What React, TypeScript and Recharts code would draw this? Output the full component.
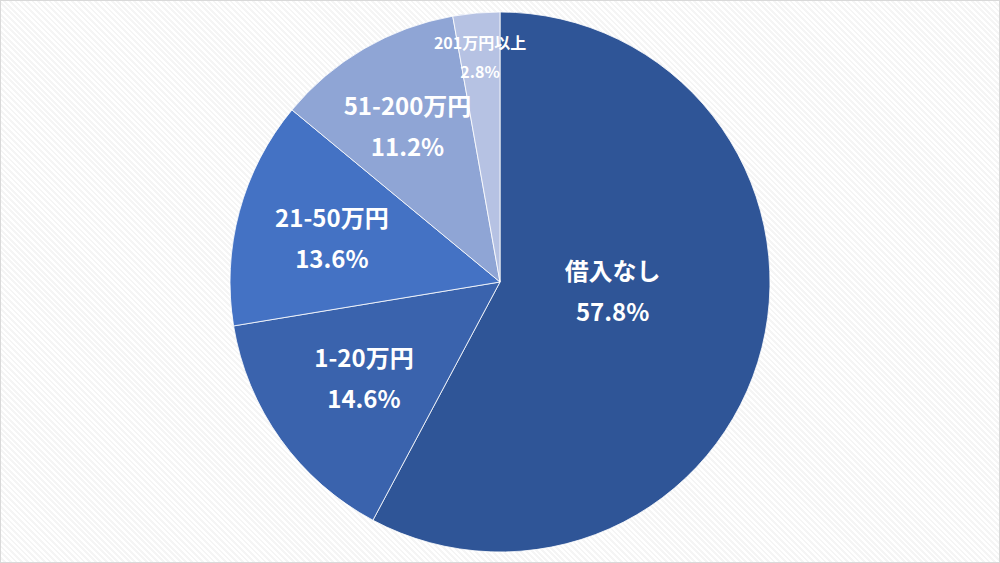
import { PieChart, Pie, Cell } from 'recharts'

const CATEGORIES = ['借入なし', '1-20万円', '21-50万円', '51-200万円', '201万円以上']
const SHARES = [57.8, 14.6, 13.6, 11.2, 2.8]
const PCT_LABELS = ['57.8%', '14.6%', '13.6%', '11.2%', '2.8%']

const COLORS = ['#2F5597', '#3A63AD', '#4472C4', '#8FA5D5', '#B6C2E3']
// label placement tweaks (fraction of radius, vertical nudge, font size)
const LABEL_R = [0.43, 0.62, 0.645, 0.68, 0.84]
const LABEL_DY = [-18, 0, 3, 4, 2]
const LABEL_SIZE = [24, 24, 24, 24, 16]

const FONT = '"Noto Sans CJK JP", "Noto Sans", sans-serif'
const RAD = Math.PI / 180

const data = CATEGORIES.map((name, i) => ({ name, value: SHARES[i], pct: PCT_LABELS[i] }))

function renderLabel(props: any) {
  const { cx, cy, midAngle, outerRadius, index } = props
  const r = outerRadius * LABEL_R[index]
  const x = cx + r * Math.cos(-midAngle * RAD)
  const y = cy + r * Math.sin(-midAngle * RAD) + LABEL_DY[index]
  const size = LABEL_SIZE[index]
  const gap = size > 18 ? 41 : 29
  return (
    <text
      x={x}
      y={y}
      fill="#fff"
      textAnchor="middle"
      fontFamily={FONT}
      fontWeight={700}
      fontSize={size}
    >
      <tspan x={x} dy={-gap / 2 + size * 0.35}>{CATEGORIES[index]}</tspan>
      <tspan x={x} dy={gap}>{data[index].pct}</tspan>
    </text>
  )
}

export default function App() {
  return (
    <div
      style={{
        position: 'fixed',
        left: 0,
        top: 0,
        width: 1000,
        height: 563,
        boxSizing: 'border-box',
        border: '1px solid #d9d9d9',
        background: 'repeating-linear-gradient(45deg, #ffffff 0px, #ffffff 2px, #f5f5f5 2px, #f5f5f5 4px)',
      }}
    >
      <PieChart
        width={998}
        height={561}
        margin={{ top: 0, right: 0, bottom: 0, left: 0 }}
        style={{ position: 'absolute', left: 0, top: 0 }}
      >
        <Pie
          data={data}
          dataKey="value"
          nameKey="name"
          cx={499}
          cy={281}
          outerRadius={270}
          startAngle={90}
          endAngle={-270}
          stroke="#ffffff"
          strokeWidth={0.8}
          label={renderLabel}
          labelLine={false}
          isAnimationActive={false}
        >
          {data.map((d, i) => (
            <Cell key={d.name} fill={COLORS[i]} />
          ))}
        </Pie>
      </PieChart>
    </div>
  )
}
